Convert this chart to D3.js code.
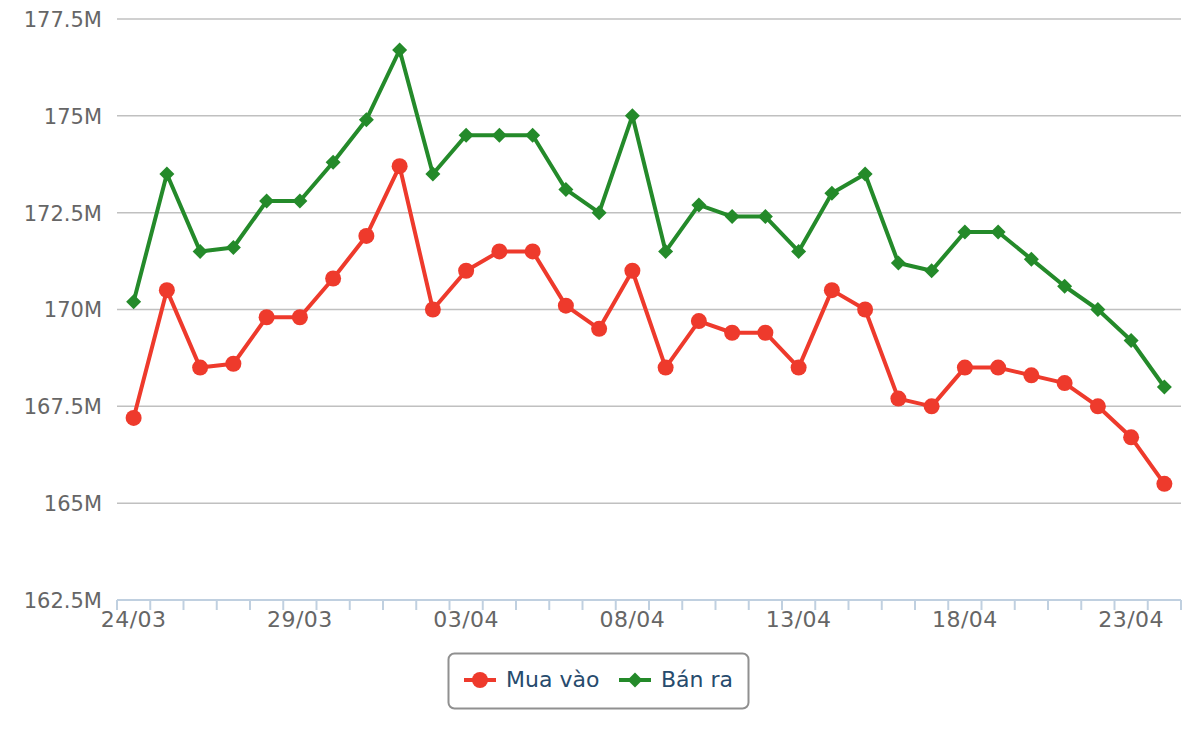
<!DOCTYPE html>
<html>
<head>
<meta charset="utf-8">
<script src="https://cdn.jsdelivr.net/npm/d3@7"></script>
<style>
	body { margin: 0; background: #fff; }
	svg { display: block; font-family: "DejaVu Sans", Verdana, sans-serif; }
</style>
</head>
<body>
<svg id="chart" width="1200" height="740"></svg>
<script>
var dates = ['24/03','25/03','26/03','27/03','28/03','29/03','30/03','31/03',
	'01/04','02/04','03/04','04/04','05/04','06/04','07/04','08/04','09/04','10/04',
	'11/04','12/04','13/04','14/04','15/04','16/04','17/04','18/04','19/04','20/04',
	'21/04','22/04','23/04','24/04'];

// gia mua vao / ban ra (trieu dong)
var muaVao = [167.2, 170.5, 168.5, 168.6, 169.8, 169.8, 170.8, 171.9,
	173.7, 170.0, 171.0, 171.5, 171.5, 170.1, 169.5, 171.0, 168.5, 169.7,
	169.4, 169.4, 168.5, 170.5, 170.0, 167.7, 167.5, 168.5, 168.5, 168.3,
	168.1, 167.5, 166.7, 165.5];

var banRa = [170.2, 173.5, 171.5, 171.6, 172.8, 172.8, 173.8, 174.9,
	176.7, 173.5, 174.5, 174.5, 174.5, 173.1, 172.5, 175.0, 171.5, 172.7,
	172.4, 172.4, 171.5, 173.0, 173.5, 171.2, 171.0, 172.0, 172.0, 171.3,
	170.6, 170.0, 169.2, 168.0];

var yTicks = [162.5, 165, 167.5, 170, 172.5, 175, 177.5];

var series = [
	{name: 'Mua vào', data: muaVao, color: '#ee3a2c', marker: 'circle'},
	{name: 'Bán ra', data: banRa, color: '#248a2a', marker: 'diamond'}
];

var svg = d3.select('#chart');
var plotLeft = 117, plotRight = 1181, plotTop = 19, plotBottom = 600;

var x = d3.scaleBand().domain(dates).range([plotLeft, plotRight]);
var y = d3.scaleLinear().domain([162.5, 177.5]).range([plotBottom, plotTop]);

var cx = function(d, i) { return x(dates[i]) + x.bandwidth() / 2; };

// grid
svg.append('g').selectAll('line').data(yTicks.slice(1)).enter().append('line')
	.attr('x1', plotLeft).attr('x2', plotRight)
	.attr('y1', function(d) { return y(d); }).attr('y2', function(d) { return y(d); })
	.attr('stroke', '#c0c0c0').attr('stroke-width', 1.5);

// y labels
var yAxis = d3.axisLeft(y).tickValues(yTicks).tickSize(0).tickPadding(15)
	.tickFormat(function(d) { return d + 'M'; });
var gy = svg.append('g').attr('transform', 'translate(' + plotLeft + ',0)').call(yAxis);
gy.select('.domain').remove();
gy.selectAll('text').attr('fill', '#666').style('font-size', '21px')
	.attr('dy', '0.35em');
gy.attr('font-family', null).attr('font-size', null);

// x axis
svg.append('line').attr('x1', plotLeft).attr('x2', plotRight).attr('y1', plotBottom).attr('y2', plotBottom)
	.attr('stroke', '#c0d0e0').attr('stroke-width', 2);

var bounds = dates.map(function(d) { return x(d); }).concat([plotRight]);
svg.append('g').selectAll('line').data(bounds).enter().append('line')
	.attr('x1', function(d) { return d; }).attr('x2', function(d) { return d; })
	.attr('y1', plotBottom).attr('y2', plotBottom + 10)
	.attr('stroke', '#c0d0e0').attr('stroke-width', 2);

svg.append('g').selectAll('text')
	.data(dates.filter(function(d, i) { return i % 5 == 0; }))
	.enter().append('text')
	.attr('x', function(d) { return x(d) + x.bandwidth() / 2; })
	.attr('y', plotBottom + 27)
	.attr('text-anchor', 'middle')
	.attr('fill', '#666').style('font-size', '22px').style('letter-spacing', '0.5px')
	.text(function(d) { return d; });

// series
var line = d3.line().x(cx).y(function(d) { return y(d); });
var diamond = function(r) { return 'M0,' + (-r) + 'L' + r + ',0L0,' + r + 'L' + (-r) + ',0Z'; };

series.forEach(function(s) {
	svg.append('path').datum(s.data).attr('d', line)
		.attr('fill', 'none').attr('stroke', s.color).attr('stroke-width', 4)
		.attr('stroke-linejoin', 'round');
	var g = svg.append('g');
	if (s.marker == 'circle') {
		g.selectAll('circle').data(s.data).enter().append('circle')
			.attr('cx', cx).attr('cy', function(d) { return y(d); })
			.attr('r', 8).attr('fill', s.color);
	} else {
		g.selectAll('path').data(s.data).enter().append('path')
			.attr('d', diamond(7.5))
			.attr('transform', function(d, i) { return 'translate(' + cx(d, i) + ',' + y(d) + ')'; })
			.attr('fill', s.color);
	}
});

// legend
var lg = svg.append('g');
lg.append('rect').attr('x', 448.5).attr('y', 653.5).attr('width', 300).attr('height', 55)
	.attr('rx', 6).attr('fill', '#fff').attr('stroke', '#909090').attr('stroke-width', 2);

var items = [{s: series[0], x: 464, tx: 506}, {s: series[1], x: 619, tx: 661}];
items.forEach(function(it) {
	lg.append('line').attr('x1', it.x).attr('x2', it.x + 32).attr('y1', 680).attr('y2', 680)
		.attr('stroke', it.s.color).attr('stroke-width', 4);
	if (it.s.marker == 'circle') {
		lg.append('circle').attr('cx', it.x + 16).attr('cy', 680).attr('r', 8).attr('fill', it.s.color);
	} else {
		lg.append('path').attr('d', diamond(7.5)).attr('transform', 'translate(' + (it.x + 16) + ',680)')
			.attr('fill', it.s.color);
	}
	lg.append('text').attr('x', it.tx).attr('y', 687).attr('fill', '#274b6d')
		.style('font-size', '22px').text(it.s.name);
});
</script>
</body>
</html>
